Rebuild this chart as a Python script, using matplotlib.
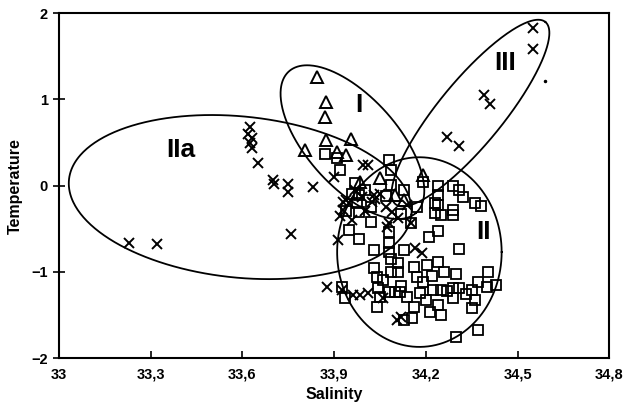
import numpy as np
import matplotlib
matplotlib.use("Agg")
import matplotlib.pyplot as plt

plt.rcParams['font.family'] = ['Liberation Sans', 'DejaVu Sans']

# ---- data ----
cross_sal = [33.23, 33.32, 33.625, 33.62, 33.63, 33.625, 33.63, 33.65, 33.70, 33.705, 33.75, 33.75,
             33.83, 33.76,
             34.55, 34.55, 34.39, 34.41, 34.27, 34.31,
             33.995, 34.01, 33.90, 33.93, 33.95, 33.94, 34.025, 34.035, 34.03, 34.07, 34.09, 34.08,
             34.11, 33.93, 33.96, 33.97, 34.00, 33.92, 34.05, 33.99, 34.14,
             33.878, 33.963, 33.986, 34.012, 33.914, 34.074, 34.166, 34.189, 34.107, 34.12, 34.15,
             33.927, 34.06]
cross_temp = [-0.67, -0.68, 0.68, 0.60, 0.55, 0.50, 0.44, 0.26, 0.07, 0.02, 0.02, -0.07,
              -0.02, -0.56,
              1.83, 1.59, 1.05, 0.95, 0.56, 0.46,
              0.24, 0.24, 0.10, -0.19, -0.20, -0.17, -0.19, -0.15, -0.11, -0.25, -0.31, -0.43,
              -0.37, -0.28, -0.40, -0.05, -0.30, -0.35, -0.10, -0.13, -0.22,
              -1.18, -1.27, -1.27, -1.25, -0.63, -0.48, -0.72, -0.78, -1.56, -1.52, -0.43,
              -1.21, -1.30]

square_sal = [33.87, 33.91, 33.92, 33.97, 33.98, 33.975, 33.98, 34.08, 34.085, 34.085, 34.19, 34.24,
              34.29, 34.31, 34.32, 34.36, 34.38, 34.24, 34.23, 34.29, 34.02, 34.24, 34.23, 34.25,
              34.29, 33.95, 33.98, 34.02, 34.08, 34.08, 34.15, 34.21, 34.24, 34.31, 34.03, 34.08,
              34.085, 34.11, 34.11, 34.085, 34.03, 34.04, 34.16, 34.17, 34.205, 34.24, 34.26, 34.30,
              34.405, 34.37, 34.43, 34.40, 33.925, 33.935, 34.045, 34.05, 34.08, 34.10, 34.115, 34.14,
              34.04, 34.16, 34.155, 34.13, 34.20, 34.225, 34.25, 34.29, 34.29, 34.31, 34.35, 34.36,
              34.35, 34.215, 34.25, 34.24, 34.37, 34.30, 34.27, 34.33, 34.18, 34.19, 34.06, 34.12,
              34.22, 34.13, 33.94, 33.96, 34.00, 34.07, 34.13, 34.17, 34.12]
square_temp = [0.37, 0.32, 0.18, 0.03, -0.11, -0.20, -0.31, 0.30, 0.18, 0.01, 0.04, 0.00,
               0.00, -0.05, -0.13, -0.20, -0.24, -0.11, -0.20, -0.28, -0.25, -0.23, -0.32, -0.34,
               -0.34, -0.52, -0.62, -0.42, -0.54, -0.66, -0.43, -0.60, -0.53, -0.73, -0.75, -0.77,
               -0.85, -0.90, -1.00, -1.00, -0.96, -1.06, -0.94, -1.06, -0.92, -0.89, -1.00, -1.02,
               -1.00, -1.12, -1.15, -1.18, -1.18, -1.30, -1.19, -1.29, -1.23, -1.23, -1.23, -1.29,
               -1.41, -1.41, -1.54, -1.56, -1.33, -1.21, -1.21, -1.30, -1.19, -1.19, -1.21, -1.33,
               -1.42, -1.47, -1.50, -1.39, -1.68, -1.76, -1.22, -1.26, -1.25, -1.12, -1.10, -1.16,
               -1.05, -0.75, -0.30, -0.10, -0.05, -0.12, -0.05, -0.25, -0.33]

tri_sal = [33.845, 33.875, 33.87, 33.805, 33.875, 33.955, 33.91, 33.94, 33.985, 34.05, 34.10, 34.13, 34.19]
tri_temp = [1.26, 0.97, 0.79, 0.41, 0.53, 0.54, 0.39, 0.35, 0.04, 0.09, -0.11, -0.17, 0.12]

stray_sal = [34.59]
stray_temp = [1.21]

# ellipses: centre, two conjugate semi-axis vectors (data units)
ell_names = ["IIa", "I", "III", "II"]
ell_center = [(33.593, -0.133), (33.960, 0.504), (34.346, 0.841), (34.179, -0.771)]
ell_u = [(0.560, -0.202), (0.2077, -0.821), (0.245, 1.057), (0.269, 0.0)]
ell_v = [(-0.026, -0.93), (-0.110, -0.348), (0.081, -0.235), (0.0, 1.10)]
label_pos = [(33.40, 0.41), (33.98, 0.93), (34.46, 1.42), (34.39, -0.54)]

x_ticks = [33.0, 33.3, 33.6, 33.9, 34.2, 34.5, 34.8]
x_ticklabels = ["33", "33,3", "33,6", "33,9", "34,2", "34,5", "34,8"]
y_ticks = [-2, -1, 0, 1, 2]

# ---- figure ----
fig = plt.figure(figsize=(6.4, 4.12), dpi=100)
ax = fig.add_axes([0.092, 0.131, 0.860, 0.837])

t = np.linspace(0, 2 * np.pi, 400)
for c, u, v in zip(ell_center, ell_u, ell_v):
    ex = c[0] + u[0] * np.cos(t) + v[0] * np.sin(t)
    ey = c[1] + u[1] * np.cos(t) + v[1] * np.sin(t)
    ax.plot(ex, ey, color='black', lw=1.3)

ax.plot(square_sal, square_temp, 's', ms=7.5, mfc='none', mec='black', mew=1.3, ls='none')
ax.plot(tri_sal, tri_temp, '^', ms=8.5, mfc='none', mec='black', mew=1.4, ls='none')
ax.plot(cross_sal, cross_temp, 'x', ms=7, color='black', mew=1.4, ls='none')
ax.plot(stray_sal, stray_temp, '.', ms=3, color='black', ls='none')

for name, (lx, ly) in zip(ell_names, label_pos):
    ax.text(lx, ly, name, fontsize=19, ha='center', va='center', fontweight='bold')

ax.set_xlim(33.0, 34.8)
ax.set_ylim(-2, 2)
ax.set_xticks(x_ticks)
ax.set_xticklabels(x_ticklabels)
ax.set_yticks(y_ticks)
for lab in ax.get_xticklabels() + ax.get_yticklabels():
    lab.set_fontweight('bold')
    lab.set_fontsize(10.5)
ax.tick_params(axis='x', direction='in', length=5, width=1.2, pad=7)
ax.tick_params(axis='y', direction='inout', length=8, width=1.2, pad=4)
for s in ax.spines.values():
    s.set_linewidth(1.5)

ax.set_xlabel("Salinity", fontsize=11.5, fontweight='bold', labelpad=4)
ax.set_ylabel("Temperature", fontsize=11.5, fontweight='bold', labelpad=6)

fig.savefig("out.png", dpi=100)
